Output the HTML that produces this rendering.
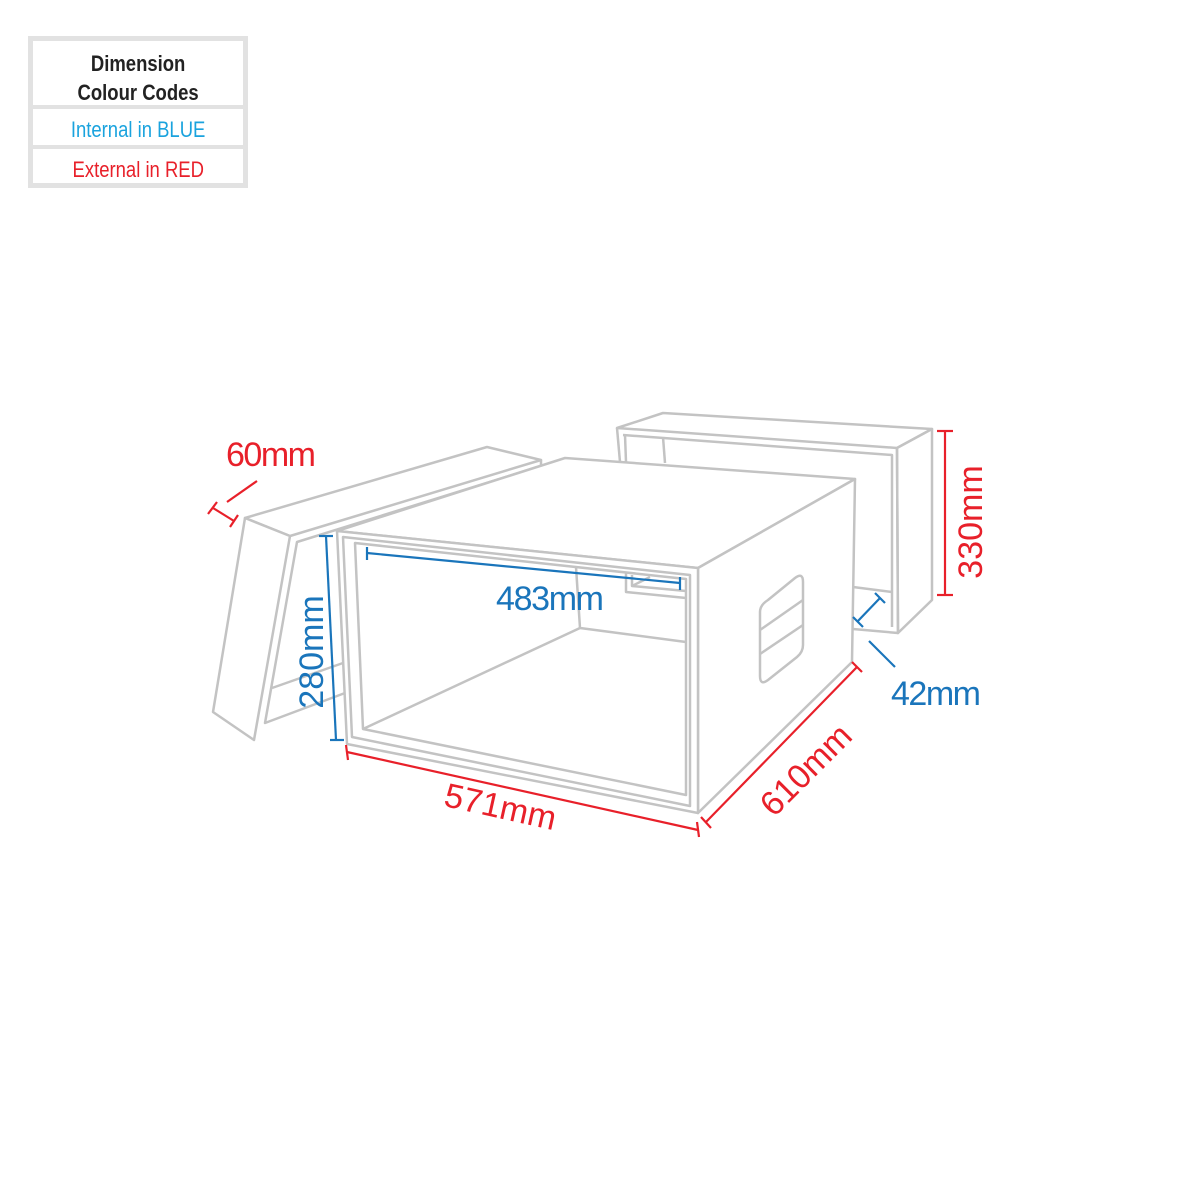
<!DOCTYPE html>
<html><head><meta charset="utf-8"><style>
html,body{margin:0;padding:0;background:#fff;}
body{width:1200px;height:1200px;position:relative;overflow:hidden;font-family:"Liberation Sans",sans-serif;}
.legend{position:absolute;left:28px;top:36px;width:210px;height:142px;border:5px solid #e2e2e2;background:#fff;}
.row{position:absolute;left:0;width:210px;text-align:center;}
.row span{display:inline-block;transform:scaleX(0.84);transform-origin:center;}
.sep{position:absolute;left:0;width:210px;height:4px;background:#e2e2e2;}
</style></head><body>
<div class="legend">
 <div class="row" style="top:8px;font-weight:bold;font-size:22px;line-height:29px;color:#222;"><span>Dimension<br>Colour Codes</span></div>
 <div class="sep" style="top:64px"></div>
 <div class="row" style="top:76px;font-size:22px;color:#1aa3de;"><span>Internal in BLUE</span></div>
 <div class="sep" style="top:104px"></div>
 <div class="row" style="top:116px;font-size:22px;color:#e8202a;"><span>External in RED</span></div>
</div>
<svg width="1200" height="1200" style="position:absolute;left:0;top:0" font-family="Liberation Sans, sans-serif">
<g fill="none" stroke="#c3c3c3" stroke-width="2.5" stroke-linejoin="round">
 <polygon points="617,428 663,413 932,429 897,448" fill="#fff"/>
 <polygon points="897,448 932,429 932,600 898,633" fill="#fff"/>
 <polyline points="617,428 620,462"/>
 <polyline points="623,435 892,455 892,627"/>
 <polyline points="625,435 626,462"/>
 <polyline points="663,437 665,463"/>
 <polyline points="897,448 898,633 853,629"/>
 <polyline points="853,587 892,592"/>
 <polygon points="245,518 487,447 541,460 290,536" fill="#fff"/>
 <polygon points="245,518 290,536 254,740 213,712" fill="#fff"/>
 <polyline points="541,460 541,466 297,542 265,723 345,693"/>
 <polyline points="272,688 343,663"/>
 <polygon points="337,531 565,458 855,479 698,568" fill="#fff"/>
 <polygon points="698,568 855,479 852,662 698,813" fill="#fff"/>
 <polygon points="337,531 698,568 698,813 347,744" fill="#fff"/>
 <polygon points="343,537 690,575 690,806 352,737"/>
 <polygon points="355,543 686,579 686,795 363,729"/>
 <polyline points="576,567 580,628 686,642"/>
 <polyline points="580,628 363,729"/>
 <polyline points="626,573 626,592 686,598"/>
 <polyline points="632,575 632,586 686,591"/>
 <polyline points="632,586 650,577"/>
 <path d="M768,600 L795,578 Q803,572 803,582 L803,645 Q803,652 797,657 L768,680 Q760,686 760,676 L760,612 Q760,605 768,600 Z"/>
 <polyline points="760,630 803,600"/>
 <polyline points="760,654 803,625"/>
</g>
<g stroke="#e8202a" stroke-width="2.2" fill="none">
 <line x1="213" y1="508" x2="234" y2="521"/>
 <line x1="208" y1="514" x2="217" y2="502"/>
 <line x1="230" y1="527" x2="238" y2="515"/>
 <line x1="227" y1="502" x2="257" y2="481"/>
 <line x1="347" y1="752" x2="698" y2="830"/>
 <line x1="346" y1="745" x2="348" y2="760"/>
 <line x1="697" y1="822" x2="699" y2="837"/>
 <line x1="706" y1="822" x2="857" y2="667"/>
 <line x1="701" y1="817" x2="711" y2="828"/>
 <line x1="852" y1="662" x2="862" y2="672"/>
 <line x1="945" y1="431" x2="945" y2="595"/>
 <line x1="937" y1="431" x2="953" y2="431"/>
 <line x1="937" y1="595" x2="953" y2="595"/>
</g>
<g stroke="#1a75bb" stroke-width="2.2" fill="none">
 <line x1="326" y1="536" x2="336" y2="740"/>
 <line x1="319" y1="536" x2="333" y2="536"/>
 <line x1="330" y1="740" x2="344" y2="740"/>
 <line x1="367" y1="553" x2="680" y2="583"/>
 <line x1="367" y1="547" x2="367" y2="560"/>
 <line x1="680" y1="577" x2="680" y2="590"/>
 <line x1="857" y1="622" x2="880" y2="598"/>
 <line x1="853" y1="617" x2="863" y2="627"/>
 <line x1="875" y1="593" x2="885" y2="603"/>
 <line x1="869" y1="641" x2="895" y2="667"/>
</g>
<g font-size="34" fill="#e8202a">
 <text x="226" y="466" textLength="90">60mm</text>
 <text transform="translate(498,818) rotate(12.5)" text-anchor="middle">571mm</text>
 <text transform="translate(814,778) rotate(-45)" text-anchor="middle">610mm</text>
 <text transform="translate(982,522) rotate(-90)" text-anchor="middle">330mm</text>
</g>
<g font-size="34" fill="#1a75bb">
 <text x="496" y="610" textLength="108">483mm</text>
 <text transform="translate(323,652) rotate(-90)" text-anchor="middle">280mm</text>
 <text x="891" y="705" textLength="90">42mm</text>
</g>
</svg>
</body></html>
